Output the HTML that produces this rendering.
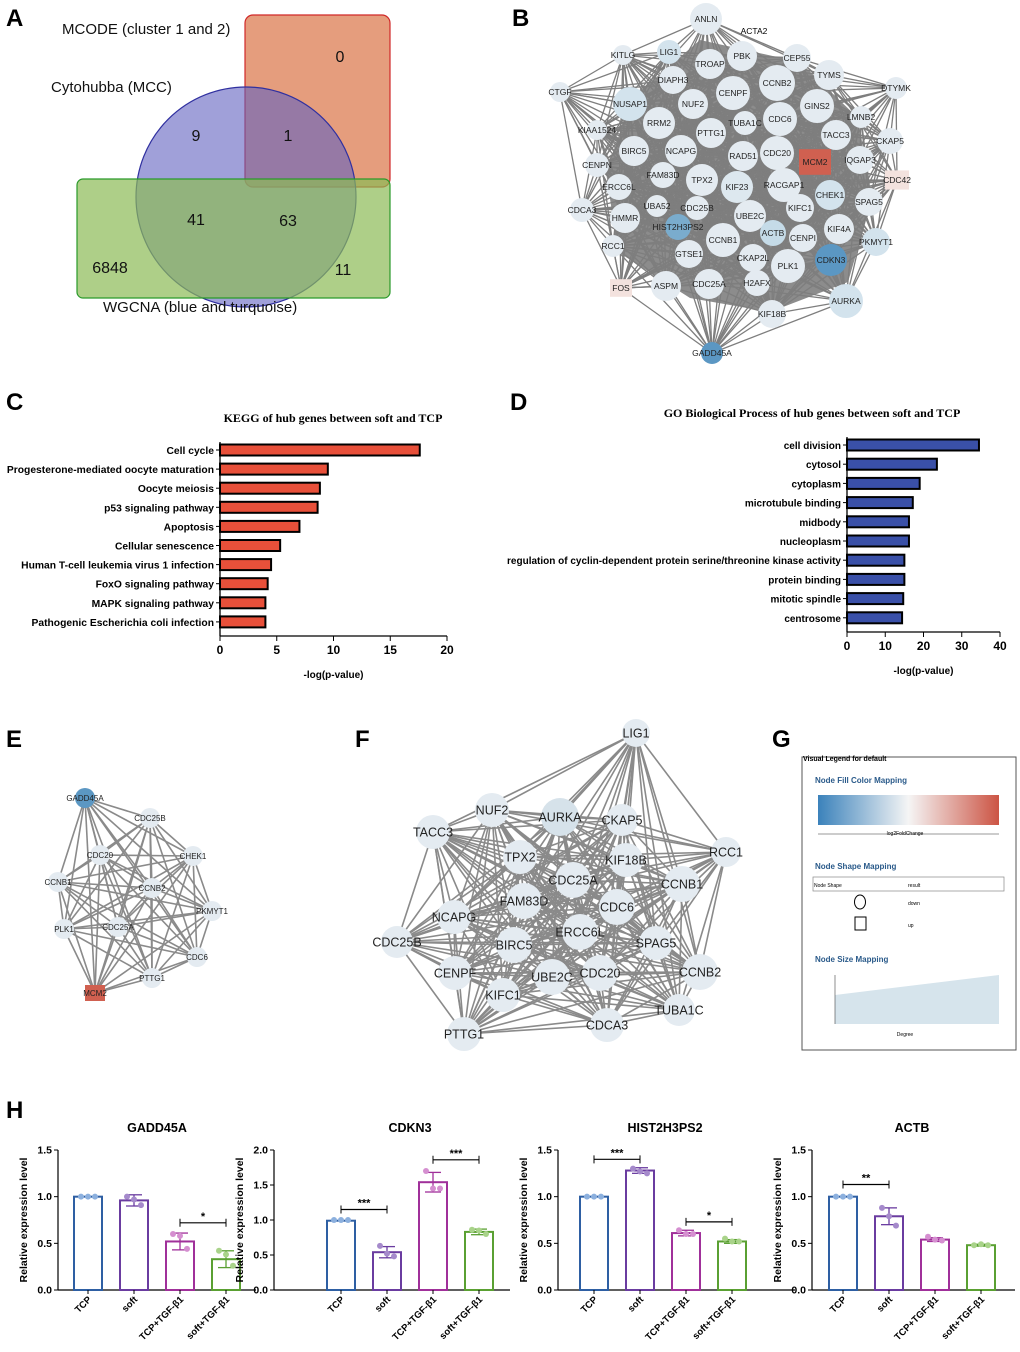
<!DOCTYPE html>
<html><head><meta charset="utf-8"><style>
body{margin:0;background:#fff}
svg{display:block;font-family:"Liberation Sans",Arial,sans-serif}
</style></head><body>
<svg id="s" width="1020" height="1352" viewBox="0 0 1020 1352" xmlns="http://www.w3.org/2000/svg">
<g font-weight="bold" font-size="24" fill="#000">
<text x="6" y="26">A</text><text x="512" y="26">B</text><text x="6" y="410">C</text><text x="510" y="410">D</text>
<text x="6" y="747">E</text><text x="355" y="747">F</text><text x="772" y="747">G</text><text x="6" y="1118">H</text></g>
<g>
<rect x="245" y="15" width="145" height="172" rx="8" fill="#e08c66" fill-opacity="0.85" stroke="#d02828" stroke-width="1.2"/>
<circle cx="246" cy="197" r="110" fill="#6060c0" fill-opacity="0.6" stroke="#3030a0" stroke-width="1.2"/>
<rect x="77" y="179" width="313" height="119" rx="6" fill="#8cba55" fill-opacity="0.7" stroke="#2a9a2a" stroke-width="1.2"/>
<g font-size="16" fill="#111" text-anchor="middle">
<text x="340" y="62">0</text><text x="196" y="141">9</text><text x="288" y="141">1</text>
<text x="196" y="225">41</text><text x="288" y="226">63</text><text x="110" y="273">6848</text><text x="343" y="275">11</text></g>
<g font-size="15" fill="#111"><text x="62" y="34">MCODE (cluster 1 and 2)</text><text x="51" y="92">Cytohubba (MCC)</text><text x="103" y="312">WGCNA (blue and turquoise)</text></g>
</g>
<g id="netB">
<polygon points="632,98 700,40 800,62 858,118 872,200 848,282 770,312 690,298 618,252 606,172" fill="#8c8c8c"/>
</g>
<g id="kegg"></g>
<g id="go"></g>
<g id="netE"></g>
<g id="netF"></g>
<g>
<defs><linearGradient id="gr" x1="0" x2="1"><stop offset="0" stop-color="#3b82bb"/><stop offset="0.5" stop-color="#f5f5f5"/><stop offset="1" stop-color="#cc5444"/></linearGradient></defs>
<rect x="802" y="757" width="214" height="293" fill="#fff" stroke="#555"/>
<text x="803" y="761" font-size="7" font-weight="bold">Visual Legend for default</text>
<g fill="#2a5a8a" font-size="8" font-weight="bold"><text x="815" y="783">Node Fill Color Mapping</text><text x="815" y="869">Node Shape Mapping</text><text x="815" y="962">Node Size Mapping</text></g>
<rect x="818" y="795" width="181" height="30" fill="url(#gr)"/>
<line x1="818" y1="834" x2="999" y2="834" stroke="#333" stroke-width="0.6"/>
<text x="905" y="835" font-size="5" text-anchor="middle">log2FoldChange</text>
<rect x="813" y="877" width="191" height="14" fill="#fff" stroke="#888" stroke-width="0.7"/>
<text x="814" y="887" font-size="5">Node Shape</text><text x="908" y="887" font-size="5">result</text>
<ellipse cx="860" cy="902" rx="5.5" ry="7" fill="none" stroke="#000"/><rect x="855" y="917" width="11" height="13" fill="none" stroke="#000"/>
<text x="908" y="905" font-size="5">down</text><text x="908" y="927" font-size="5">up</text>
<polygon points="835,995 999,975 999,1024 835,1024" fill="#d6e4ec"/>
<line x1="835" y1="975" x2="835" y2="1024" stroke="#444" stroke-width="0.6"/>
<text x="905" y="1036" font-size="5" text-anchor="middle">Degree</text>
</g>
<g id="bars"></g>
</svg>
<script>
const NS="http://www.w3.org/2000/svg";
function mk(p,t,a,txt){const e=document.createElementNS(NS,t);for(const k in a)e.setAttribute(k,a[k]);if(txt!==undefined)e.textContent=txt;p.appendChild(e);return e;}
// ---------- KEGG ----------
const keggTerms=["Cell cycle","Progesterone-mediated oocyte maturation","Oocyte meiosis","p53 signaling pathway","Apoptosis","Cellular senescence","Human T-cell leukemia virus 1 infection","FoxO signaling pathway","MAPK signaling pathway","Pathogenic Escherichia coli infection"];
const keggVals=[17.6,9.5,8.8,8.6,7.0,5.3,4.5,4.2,4.0,4.0];
const keggTicks=[0,5,10,15,20];
// ---------- GO ----------
const goTerms=["cell division","cytosol","cytoplasm","microtubule binding","midbody","nucleoplasm","regulation of cyclin-dependent protein serine/threonine kinase activity","protein binding","mitotic spindle","centrosome"];
const goVals=[34.5,23.5,19.0,17.2,16.2,16.2,15.0,15.0,14.7,14.4];
const goTicks=[0,10,20,30,40];
function hbar(g,terms,vals,ticks,x0,x1,vmax,y0,dy,title,tx,col,axisY,nm,fs){
  const sx=v=>x0+(x1-x0)*v/vmax;
  mk(g,"text",{x:tx,y:y0-28,"font-size":12,"font-weight":"bold","font-family":"Liberation Serif,serif","text-anchor":"middle"},title);
  mk(g,"line",{x1:x0,y1:y0-8,x2:x0,y2:axisY,stroke:"#000","stroke-width":1.3});
  mk(g,"line",{x1:x0,y1:axisY,x2:x1,y2:axisY,stroke:"#000","stroke-width":1.3});
  terms.forEach((t,i)=>{const y=y0+i*dy;
    const r=mk(g,"rect",{x:x0,y:y-5.5,width:sx(vals[i])-x0,height:11,fill:col,stroke:"#000","stroke-width":2});
    
    
    mk(g,"line",{x1:x0-4,y1:y,x2:x0,y2:y,stroke:"#000"});
    mk(g,"text",{x:x0-6,y:y+4,"font-size":fs,"font-weight":"bold","text-anchor":"end"},t);});
  ticks.forEach(v=>{mk(g,"line",{x1:sx(v),y1:axisY,x2:sx(v),y2:axisY+5,stroke:"#000"});
    mk(g,"text",{x:sx(v),y:axisY+18,"font-size":12,"font-weight":"bold","text-anchor":"middle"},v);});
  mk(g,"text",{x:(x0+x1)/2,y:axisY+42,"font-size":10,"font-weight":"bold","text-anchor":"middle"},"-log(p-value)");
}
hbar(document.getElementById("kegg"),keggTerms,keggVals,keggTicks,220,447,20,450,19.1,"KEGG of hub genes between soft and TCP",333,"#e8503a",636,"kegg",10.3);
hbar(document.getElementById("go"),goTerms,goVals,goTicks,847,1000,40,445,19.2,"GO Biological Process of hub genes between soft and TCP",812,"#3a50a8",632,"go",10);
// ---------- networks ----------
const BL="#e4ebf1";
const netBNodes=[["ANLN",706,19,16],["LIG1",669,52,12,"#d3e3ed"],["KITLG",623,55,10],["PBK",742,56,15],["TROAP",710,64,15],["CEP55",797,58,14],["CTGF",560,92,10],["DIAPH3",673,80,14],["TYMS",829,75,15],["DTYMK",896,88,11],["NUSAP1",630,104,17,"#d3e3ed"],["NUF2",693,104,15],["CENPF",733,93,17],["CCNB2",777,83,18],["GINS2",817,106,17],["LMNB2",861,117,11],["KIAA1524",597,130,10],["RRM2",659,123,16],["PTTG1",711,133,15],["TUBA1C",745,123,12],["CDC6",780,119,17],["TACC3",836,135,15],["CKAP5",890,141,13],["BIRC5",634,151,15],["NCAPG",681,151,16],["RAD51",743,156,15],["CDC20",777,153,17],["MCM2",815,162,16,"#d06050",1],["IQGAP3",860,160,14],["CENPN",597,165,12],["FAM83D",663,175,13],["TPX2",702,180,16],["KIF23",737,187,16,"#dde8ef"],["RACGAP1",784,185,17],["CDC42",897,180,12,"#f3e2de",1],["CHEK1",830,195,15,"#d3e3ed"],["ERCC6L",619,187,13],["SPAG5",869,202,14],["CDCA3",582,210,12],["UBA52",657,206,11],["CDC25B",697,208,12],["UBE2C",750,216,16],["KIFC1",800,208,14],["HMMR",625,218,15],["HIST2H3PS2",678,227,13,"#7aaccd"],["ACTB",773,233,13,"#c5dbe8"],["CENPI",803,238,14],["KIF4A",839,229,15],["PKMYT1",876,242,14,"#d3e3ed"],["RCC1",613,246,11],["CCNB1",723,240,17],["GTSE1",689,254,14],["CKAP2L",753,258,14],["PLK1",788,266,17],["CDKN3",831,260,16,"#5b97c3"],["FOS",621,288,11,"#f3e2de",1],["ASPM",666,286,15],["CDC25A",709,284,15],["H2AFX",757,283,13],["AURKA",846,301,17,"#d3e3ed"],["KIF18B",772,314,14],["GADD45A",712,353,11,"#5b97c3"]];
const netENodes=[["GADD45A",85,798,10,"#5b97c3"],["CDC25B",150,818,10],["CDC20",100,855,10],["CHEK1",193,856,10],["CCNB1",58,882,10],["CCNB2",152,888,10],["PKMYT1",212,911,10],["PLK1",64,929,10],["CDC25A",118,927,10],["CDC6",197,957,10],["PTTG1",152,978,10],["MCM2",95,993,10,"#d06050",1]];
const netFNodes=[["LIG1",636,733,14],["NUF2",492,810,17],["AURKA",560,817,19,"#d6e2ea"],["CKAP5",622,820,16],["TACC3",433,832,17],["TPX2",520,857,17],["KIF18B",626,860,17],["RCC1",726,852,15],["CDC25A",573,880,18],["CCNB1",682,884,18],["FAM83D",524,901,18],["CDC6",617,907,18],["NCAPG",454,917,17],["ERCC6L",580,932,18],["BIRC5",514,945,18],["SPAG5",656,943,17],["CDC25B",397,942,16],["CENPF",455,973,17],["UBE2C",552,977,18],["CDC20",600,973,18],["CCNB2",700,972,18],["KIFC1",503,995,17],["TUBA1C",679,1010,16],["CDCA3",607,1025,17],["PTTG1",464,1034,17]];
function net(g,nodes,fs,maxd,nm,ew,col){
  for(let i=0;i<nodes.length;i++)for(let j=i+1;j<nodes.length;j++){
    const a=nodes[i],b=nodes[j];const d=Math.hypot(a[1]-b[1],a[2]-b[2]);
    if(d<maxd||((i*7+j*3)%11==0))mk(g,"line",{x1:a[1],y1:a[2],x2:b[1],y2:b[2],stroke:col,"stroke-width":ew});}
  nodes.forEach(n=>{const f=n[4]||BL;
    const s=n[5]?mk(g,"rect",{x:n[1]-n[3],y:n[2]-n[3]*0.8,width:n[3]*2,height:n[3]*1.6,fill:f}):mk(g,"circle",{cx:n[1],cy:n[2],r:n[3],fill:f});
    
    
    mk(g,"text",{x:n[1],y:n[2]+fs*0.36,"font-size":fs,"text-anchor":"middle",fill:"#222"},n[0]);});
}
net(document.getElementById("netB"),netBNodes,8.5,150,"b",1.3,"#7e7e7e");
mk(document.getElementById("netB"),"text",{x:754,y:34,"font-size":8.5,"text-anchor":"middle"},"ACTA2");
net(document.getElementById("netE"),netENodes,8,300,"e",1.6,"#8a8a8a");
net(document.getElementById("netF"),netFNodes,12.5,260,"f",1.6,"#8a8a8a");
// ---------- bar charts ----------
const groups=["TCP","soft","TCP+TGF-β1","soft+TGF-β1"];
const genes=["GADD45A","CDKN3","HIST2H3PS2","ACTB"];
const means=[[1,0.96,0.52,0.33],[0.99,0.54,1.54,0.83],[1,1.28,0.61,0.52],[1,0.79,0.54,0.48]];
const pts=[[[1,1,1],[1.0,0.97,0.91],[0.6,0.58,0.44],[0.42,0.38,0.26]],[[1,1,1],[0.63,0.52,0.48],[1.7,1.45,1.45],[0.86,0.85,0.8]],[[1,1,1],[1.3,1.27,1.25],[0.64,0.6,0.6],[0.55,0.52,0.52]],[[1,1,1],[0.88,0.79,0.69],[0.57,0.54,0.53],[0.48,0.49,0.48]]];
const sds=[[0,0.06,0.09,0.09],[0,0.08,0.14,0.04],[0,0.03,0.03,0.02],[0,0.09,0.02,0.01]];
const ymaxs=[1.5,2.0,1.5,1.5];
const yticks=[[0,0.5,1.0,1.5],[0,0.5,1.0,1.5,2.0],[0,0.5,1.0,1.5],[0,0.5,1.0,1.5]];
const sigs=[[[2,3,0.72,"*"]],[[0,1,1.15,"***"],[2,3,1.86,"***"]],[[0,1,1.4,"***"],[2,3,0.73,"*"]],[[0,1,1.13,"**"]]];
const cols=["#2e5fa3","#6a3ca0","#a0309a","#5aa032"],pcols=["#8cb0de","#a58acb","#d58fd0","#a9d38a"];
const axX=[58,274,558,812],axEnd=[256,510,795,1015],bx0=[88,341,594,843],titleX=[157,410,665,912];
const gB=document.getElementById("bars");
genes.forEach((gn,k)=>{
  const g=mk(gB,"g",{});
  
  
  const Y0=1290,Y1=1150,sy=v=>Y0-(Y0-Y1)*v/ymaxs[k];
  mk(g,"text",{x:titleX[k],y:1132,"font-size":12.5,"font-weight":"bold","text-anchor":"middle"},gn);
  mk(g,"line",{x1:axX[k],y1:Y1,x2:axX[k],y2:Y0,stroke:"#000","stroke-width":1.2});
  mk(g,"line",{x1:axX[k],y1:Y0,x2:axEnd[k],y2:Y0,stroke:"#000","stroke-width":1.2});
  yticks[k].forEach(v=>{mk(g,"line",{x1:axX[k]-4,y1:sy(v),x2:axX[k],y2:sy(v),stroke:"#000"});
    mk(g,"text",{x:axX[k]-6,y:sy(v)+3.5,"font-size":10.5,"font-weight":"bold","text-anchor":"end"},v.toFixed(1));});
  mk(g,"text",{transform:`translate(${axX[k]-31},${(Y0+Y1)/2}) rotate(-90)`,"font-size":10.5,"font-weight":"bold","text-anchor":"middle"},"Relative expression level");
  groups.forEach((gr,i)=>{const cx=bx0[k]+i*46;
    const r=mk(g,"rect",{x:cx-14,y:sy(means[k][i]),width:28,height:Y0-sy(means[k][i]),fill:"#fff",stroke:cols[i],"stroke-width":2});
    
    
    const m=means[k][i],s=sds[k][i];
    if(s>0){mk(g,"line",{x1:cx,y1:sy(m-s),x2:cx,y2:sy(m+s),stroke:cols[i],"stroke-width":1.3});
      [m-s,m+s].forEach(v=>mk(g,"line",{x1:cx-8,y1:sy(v),x2:cx+8,y2:sy(v),stroke:cols[i],"stroke-width":1.3}));}
    pts[k][i].forEach((v,j)=>mk(g,"circle",{cx:cx+(j-1)*7,cy:sy(v),r:3,fill:pcols[i]}));
    mk(g,"line",{x1:cx,y1:Y0,x2:cx,y2:Y0+4,stroke:"#000"});
    mk(g,"text",{transform:`translate(${cx+4},${Y0+10}) rotate(-45)`,"font-size":9.5,"font-weight":"bold","text-anchor":"end"},gr);});
  sigs[k].forEach(sg=>{const a=bx0[k]+sg[0]*46,b=bx0[k]+sg[1]*46,y=sy(sg[2]);
    mk(g,"line",{x1:a,y1:y,x2:b,y2:y,stroke:"#000","stroke-width":1.2});
    mk(g,"line",{x1:a,y1:y-4,x2:a,y2:y+4,stroke:"#000"});mk(g,"line",{x1:b,y1:y-4,x2:b,y2:y+4,stroke:"#000"});
    mk(g,"text",{x:(a+b)/2,y:y-3,"font-size":11,"font-weight":"bold","text-anchor":"middle"},sg[3]);});
});
</script>
</body></html>
